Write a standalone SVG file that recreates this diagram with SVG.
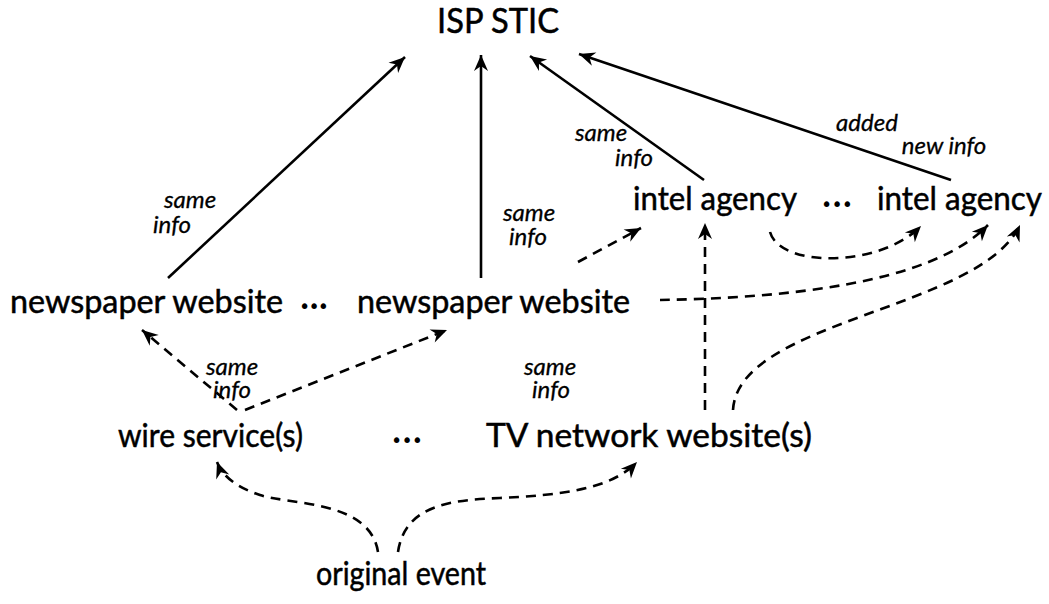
<svg xmlns="http://www.w3.org/2000/svg" width="1049" height="604" viewBox="0 0 1049 604">
<style>
.n{font-family:Lato,"Open Sans","Liberation Sans",sans-serif;font-size:32px;fill:#000;stroke:#000;stroke-width:0.5}
.t{font-family:Lato,"Open Sans","Liberation Sans",sans-serif;font-size:34px;fill:#000;stroke:#000;stroke-width:0.5}
.e{font-family:"DejaVu Sans","Liberation Sans",sans-serif;font-size:19px;fill:#000}
.l{font-family:Lato,"Open Sans","Liberation Sans",sans-serif;font-size:24px;font-style:italic;fill:#000;text-anchor:middle;stroke:#000;stroke-width:0.3}
.s{fill:none;stroke:#000;stroke-width:2.6;marker-end:url(#ah)}
.d{fill:none;stroke:#000;stroke-width:2.6;stroke-dasharray:10 7;marker-end:url(#ah)}
</style>
<defs>
<marker id="ah" viewBox="-17 -8 18 16" refX="0" refY="0" markerWidth="18" markerHeight="16" markerUnits="userSpaceOnUse" orient="auto">
<path d="M0,0 L-16,-7 L-11,0 L-16,7 Z" fill="#000" stroke="none"/>
</marker>
</defs>
<g id="connectors">
<path class="s" d="M168,278 L405,57"/>
<path class="s" d="M481,278 L481,55"/>
<path class="s" d="M704,180 L530,56"/>
<path class="s" d="M951,180 L579,54"/>
<path class="d" d="M237,410 L142,330"/>
<path class="d" d="M245,410 L447,330"/>
<path class="d" d="M578,262 L641,228"/>
<path class="d" d="M770,232 C780,268 880,268 921,226"/>
<path class="d" d="M660,300 C780,298 930,285 988,225"/>
<path class="d" d="M705,410 L705,223"/>
<path class="d" d="M733,410 C738,320 980,310 1020,225"/>
<path class="d" d="M378,552 C370,500 290,505 260,495 C235,487 222,475 217,462"/>
<path class="d" d="M398,552 C405,505 450,500 500,498 C560,495 610,490 637,462"/>
</g>
<g id="isp"><text class="t" x="437" y="33" textLength="122" lengthAdjust="spacingAndGlyphs">ISP STIC</text></g>
<g id="intel1"><text class="n" x="633" y="210" textLength="164" lengthAdjust="spacingAndGlyphs">intel agency</text></g>
<g id="dots1"><text class="e" x="821" y="211" textLength="32" lengthAdjust="spacing">•••</text></g>
<g id="intel2"><text class="n" x="877" y="210" textLength="165" lengthAdjust="spacingAndGlyphs">intel agency</text></g>
<g id="news1"><text class="n" x="10" y="313" textLength="273" lengthAdjust="spacingAndGlyphs">newspaper website</text></g>
<g id="dots2"><text class="e" x="299" y="313" textLength="30" lengthAdjust="spacing">•••</text></g>
<g id="news2"><text class="n" x="357" y="313" textLength="273" lengthAdjust="spacingAndGlyphs">newspaper website</text></g>
<g id="wire"><text class="n" x="118" y="447" textLength="185" lengthAdjust="spacingAndGlyphs">wire service(s)</text></g>
<g id="dots3"><text class="e" x="391" y="447" textLength="32" lengthAdjust="spacing">•••</text></g>
<g id="tv"><text class="n" x="486" y="447" textLength="326" lengthAdjust="spacingAndGlyphs">TV network website(s)</text></g>
<g id="event"><text class="n" x="316" y="585" textLength="170" lengthAdjust="spacingAndGlyphs">original event</text></g>
<g id="labels">
<text class="l" x="190" y="208">same</text><text class="l" x="172" y="233">info</text>
<text class="l" x="529" y="221">same</text><text class="l" x="528" y="245">info</text>
<text class="l" x="601" y="141">same</text><text class="l" x="634" y="166">info</text>
<text class="l" x="867" y="131">added</text><text class="l" x="944" y="154">new info</text>
<text class="l" x="232" y="375">same</text><text class="l" x="232" y="398">info</text>
<text class="l" x="550" y="375">same</text><text class="l" x="551" y="398">info</text>
</g>
</svg>
